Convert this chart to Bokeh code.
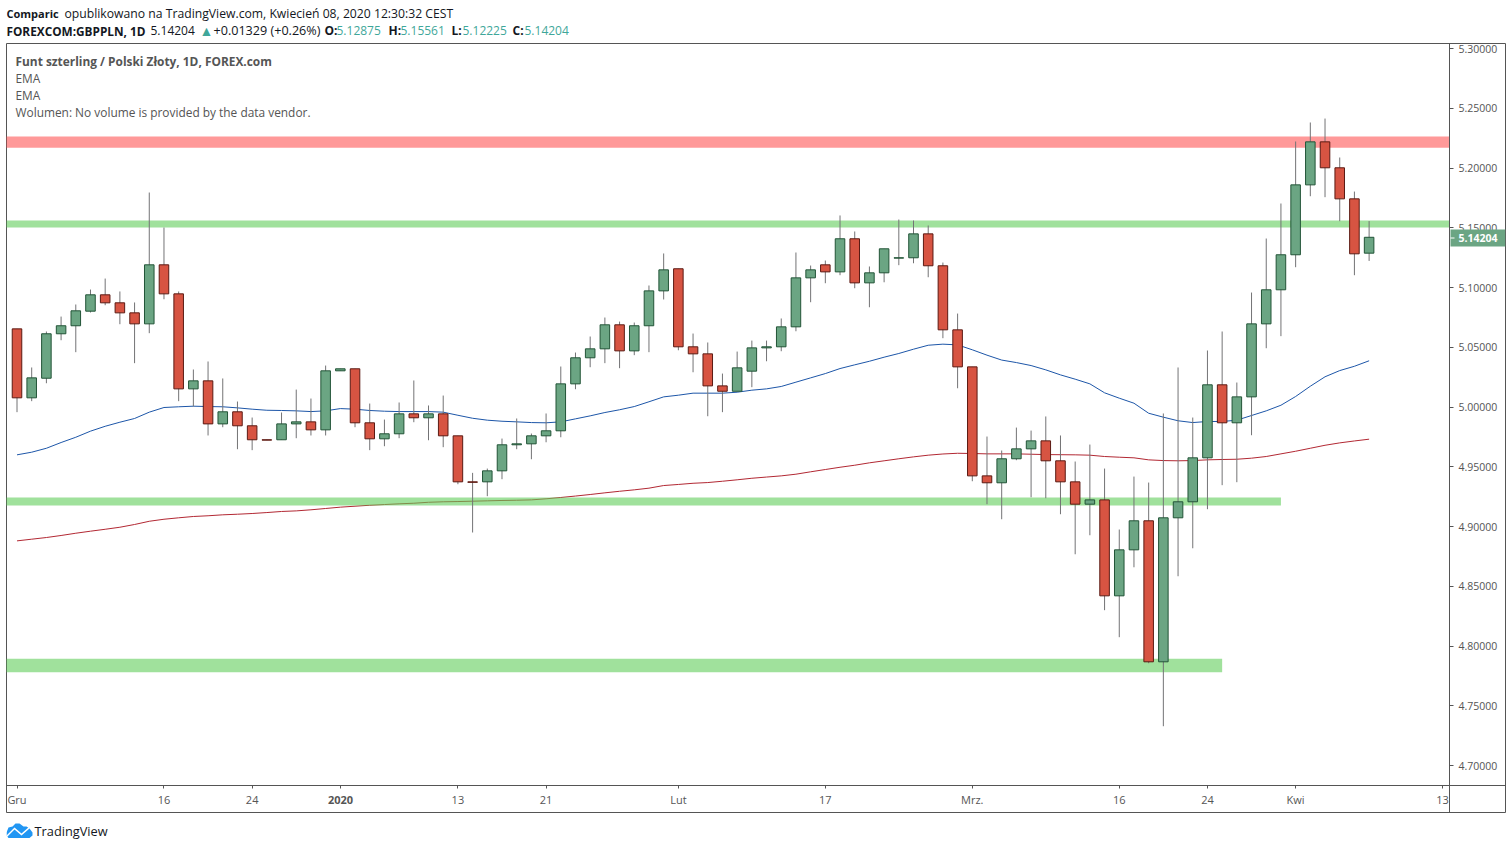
from bokeh.plotting import figure
from bokeh.layouts import column
from bokeh.models import (Range1d, FixedTicker, PrintfTickFormatter, Label, LinearAxis,
                          BoxAnnotation, PolyAnnotation, ColumnDataSource)
from bokeh.embed import file_html
from bokeh.resources import INLINE

opens = [5.0654,5.0077,5.0241,5.0613,5.0680,5.0802,5.0939,5.0872,5.0788,5.0696,5.1190,5.0947,5.0152,5.0219,4.9859,4.9960,4.9843,4.9726,4.9726,4.9859,4.9876,4.9809,5.0303,5.0320,
4.9868,4.9734,4.9776,4.9943,4.9910,4.9943,4.9759,4.9374,4.9374,4.9466,4.9684,4.9692,4.9759,4.9801,5.0194,5.0412,5.0487,5.0688,5.0470,5.0680,5.0972,5.1157,5.0504,5.0445,5.0177,5.0132,5.0300,5.0495,5.0504,5.0671,5.1081,5.1190,5.1131,5.1408,5.1039,5.1123,5.1246,5.1249,5.1449,5.1182,5.0646,5.0336,4.9424,4.9366,4.9567,4.9650,4.9717,4.9550,4.9374,4.9187,4.9223,4.8420,4.8805,4.9048,4.7868,4.9073,4.9207,4.9575,5.0186,4.9868,5.0085,5.0696,5.0981,5.1274,5.1859,5.2219,5.2002,5.1742,5.12875]
closes = [5.0077,5.0244,5.0613,5.0680,5.0805,5.0939,5.0872,5.0788,5.0696,5.1190,5.0947,5.0152,5.0219,4.9859,4.9960,4.9843,4.9726,4.9723,4.9859,4.9876,4.9809,5.0303,5.0320,4.9868,
4.9734,4.9776,4.9943,4.9910,4.9943,4.9759,4.9374,4.9370,4.9466,4.9684,4.9692,4.9759,4.9801,5.0194,5.0412,5.0487,5.0688,5.0470,5.0680,5.0972,5.1148,5.0504,5.0445,5.0177,5.0132,5.0328,5.0495,5.0504,5.0671,5.1081,5.1148,5.1131,5.1408,5.1039,5.1123,5.1324,5.1249,5.1449,5.1182,5.0646,5.0336,4.9424,4.9366,4.9567,4.9650,4.9717,4.9550,4.9374,4.9187,4.9223,4.8420,4.8805,4.9048,4.7868,4.9073,4.9207,4.9575,5.0186,4.9868,5.0085,5.0696,5.0981,5.1274,5.1859,5.2219,5.2002,5.1742,5.1282,5.14204]
highs = [5.0654,5.0331,5.0632,5.0757,5.0858,5.0983,5.1075,5.0967,5.0875,5.1795,5.1502,5.0967,5.0314,5.0381,5.0239,5.0046,4.9912,4.9726,4.9954,5.0146,5.0071,5.0347,5.0320,5.0320,
5.0029,4.9895,5.0038,5.0222,5.0013,5.0096,4.9759,4.9449,4.9485,4.9736,4.9904,4.9778,4.9946,5.0339,5.0456,5.0590,5.0749,5.0715,5.0707,5.1017,5.1285,5.1157,5.0615,5.0540,5.0280,5.0464,5.0556,5.0556,5.0741,5.1293,5.1184,5.1226,5.1603,5.1469,5.1176,5.1324,5.1569,5.1561,5.1519,5.1209,5.0782,5.0336,4.9753,4.9636,4.9828,4.9803,4.9921,4.9762,4.9544,4.9686,4.9485,4.8975,4.9418,4.9368,4.9946,5.0331,4.9912,5.0473,5.0632,5.0205,5.0958,5.1410,5.1703,5.2222,5.2381,5.2414,5.2088,5.1803,5.15561]
lows = [4.9957,5.0049,5.0199,5.0559,5.0459,5.0791,5.0852,5.0693,5.0367,5.0618,5.0902,5.0049,5.0004,4.9762,4.9831,4.9647,4.9639,4.9723,4.9726,4.9739,4.9762,4.9762,5.0303,4.9831,
4.9639,4.9672,4.9739,4.9873,4.9722,4.9664,4.9354,4.8950,4.9254,4.9396,4.9647,4.9563,4.9705,4.9747,5.0149,5.0333,5.0367,5.0325,5.0434,5.0459,5.0900,5.0475,5.0291,4.9923,4.9957,5.0132,5.0166,5.0383,5.0467,5.0634,5.0877,5.1036,5.1103,5.0994,5.0835,5.1044,5.1187,5.1203,5.1086,5.0576,5.0157,4.9379,4.9187,4.9061,4.9555,4.9245,4.9237,4.9103,4.8768,4.8927,4.8300,4.8074,4.8659,4.7856,4.7329,4.8584,4.8818,4.9145,4.9346,4.9371,4.9764,5.0492,5.0593,5.1170,5.1764,5.1756,5.1555,5.1103,5.12225]
ema_blue = [4.9600,4.9622,4.9655,4.9703,4.9747,4.9798,4.9839,4.9873,4.9904,4.9957,4.9996,5.0002,5.0007,5.0004,5.0002,4.9993,4.9982,4.9973,4.9971,4.9968,4.9962,4.9968,4.9987,4.9982,
4.9971,4.9965,4.9962,4.9962,4.9962,4.9957,4.9931,4.9906,4.9890,4.9881,4.9876,4.9870,4.9868,4.9876,4.9901,4.9926,4.9954,4.9977,5.0004,5.0044,5.0085,5.0099,5.0116,5.0116,5.0116,5.0124,5.0141,5.0152,5.0172,5.0208,5.0244,5.0280,5.0322,5.0353,5.0383,5.0417,5.0448,5.0484,5.0517,5.0526,5.0520,5.0479,5.0434,5.0393,5.0372,5.0347,5.0311,5.0269,5.0233,5.0194,5.0119,5.0074,5.0032,4.9948,4.9915,4.9885,4.9870,4.9879,4.9879,4.9890,4.9929,4.9968,5.0015,5.0088,5.0174,5.0253,5.0305,5.0341,5.0387]
ema_red = [4.8880,4.8894,4.8908,4.8925,4.8944,4.8961,4.8977,4.8994,4.9017,4.9044,4.9061,4.9073,4.9084,4.9090,4.9098,4.9103,4.9109,4.9117,4.9126,4.9131,4.9140,4.9151,4.9162,4.9170,
4.9178,4.9184,4.9190,4.9195,4.9203,4.9207,4.9209,4.9212,4.9215,4.9218,4.9220,4.9223,4.9232,4.9243,4.9255,4.9268,4.9282,4.9295,4.9307,4.9321,4.9343,4.9352,4.9362,4.9368,4.9379,4.9391,4.9404,4.9414,4.9424,4.9438,4.9458,4.9477,4.9496,4.9513,4.9533,4.9550,4.9567,4.9583,4.9597,4.9607,4.9613,4.9611,4.9608,4.9608,4.9608,4.9605,4.9602,4.9601,4.9600,4.9597,4.9586,4.9580,4.9575,4.9558,4.9552,4.9550,4.9552,4.9558,4.9561,4.9563,4.9572,4.9586,4.9608,4.9630,4.9655,4.9680,4.9700,4.9716,4.9731]

band_tops = [5.2264, 5.1561, 4.9243, 4.7893]
band_bottoms = [5.2169, 5.1502, 4.9176, 4.7781]
band_ends = [97.475, 97.475, 86, 82]
band_colors = ["#ff5555", "#61cd5a", "#61cd5a", "#61cd5a"]

x_tick_positions = [0, 10, 16, 22, 30, 36, 45, 55, 65, 75, 81, 87, 97]
x_tick_labels = ["Gru", "16", "24", "2020", "13", "21", "Lut", "17", "Mrz.", "16", "24", "Kwi", "13"]
y_ticks = [4.70, 4.75, 4.80, 4.85, 4.90, 4.95, 5.00, 5.05, 5.10, 5.15, 5.20, 5.25, 5.30]

PRICE_AXIS_AT = 97.475   # index at which the price scale sits
TIME_AXIS_AT = 4.6833    # price at which the time scale sits

UP, UP_LINE = "#6ba583", "#225437"
DOWN, DOWN_LINE = "#d75442", "#5b1a13"
WICK = "#737375"
FRAME = "#555555"
TEAL = "#3fa79a"
FONT = "Open Sans"

idx = list(range(len(opens)))
is_up = [c >= o for o, c in zip(opens, closes)]

header = figure(width=1506, height=42, x_range=Range1d(0, 1), y_range=Range1d(0, 1),
                x_axis_location=None, y_axis_location=None, toolbar_location=None,
                output_backend="svg", min_border=0, outline_line_color=None)
footer = figure(width=1506, height=28, x_range=Range1d(0, 1), y_range=Range1d(0, 1),
                x_axis_location=None, y_axis_location=None, toolbar_location=None,
                output_backend="svg", min_border=0, outline_line_color=None)
header.grid.visible = False
footer.grid.visible = False

p = figure(width=1506, height=771, frame_width=1499, frame_height=769,
           x_range=Range1d(-0.7145, 101.28), y_range=Range1d(4.6607, 5.3042),
           x_axis_location=None, y_axis_location=None,
           toolbar_location=None, output_backend="svg",
           min_border_left=6, min_border_right=1, min_border_top=1, min_border_bottom=1)
p.grid.visible = False
p.outline_line_color = FRAME
p.outline_line_width = 1
p.background_fill_color = "white"

overrides = dict(zip(x_tick_positions, x_tick_labels))
overrides[22] = ""      # the year label is drawn bold below
xaxis = LinearAxis(ticker=FixedTicker(ticks=x_tick_positions), major_label_overrides=overrides,
                   fixed_location=TIME_AXIS_AT)
yaxis = LinearAxis(ticker=FixedTicker(ticks=y_ticks),
                   formatter=PrintfTickFormatter(format="%.5f"), fixed_location=PRICE_AXIS_AT)
for ax in (xaxis, yaxis):
    ax.axis_line_color = FRAME
    ax.major_tick_line_color = FRAME
    ax.major_tick_in = 0
    ax.major_tick_out = 3
    ax.minor_tick_line_color = None
    ax.major_label_text_font = FONT
    ax.major_label_text_font_size = "11px"
    ax.major_label_text_color = FRAME
xaxis.major_label_standoff = 4
yaxis.major_label_standoff = 5
yaxis.major_tick_out = 4
yaxis.major_label_text_font_size = "10.5px"
p.add_layout(xaxis, "below")
p.add_layout(yaxis, "right")

# EMA lines sit under the translucent zones
p.line(idx, ema_red, line_color="#b22833", line_width=1)
p.line(idx, ema_blue, line_color="#1d56a8", line_width=1)
p.quad(left=[-1] * 4, right=band_ends, top=band_tops, bottom=band_bottoms,
       fill_color=band_colors, fill_alpha=0.6, line_color=None)

src = ColumnDataSource(dict(
    x=idx, o=opens, c=closes, h=highs, l=lows,
    fill=[UP if u else DOWN for u in is_up],
    edge=[UP_LINE if u else DOWN_LINE for u in is_up]))
p.segment("x", "h", "x", "l", source=src, line_color=WICK, line_width=1)
p.vbar("x", width=0.65, top="o", bottom="c", source=src,
       fill_color="fill", line_color="edge", line_width=1)


def text(fig, x, y, s, size=12, color="#131722", style="normal", align="left"):
    fig.add_layout(Label(x=x, y=y, x_units="canvas", y_units="canvas", text=s,
                         text_font=FONT, text_font_size=f"{size}px", text_color=color,
                         text_font_style=style, text_align=align, text_baseline="middle"))


# header
text(header, 6, 13, "Comparic", size=11, style="bold")
text(header, 64, 13, "opublikowano na TradingView.com, Kwiecień 08, 2020 12:30:32 CEST", size=12.2)
text(header, 6, 30, "FOREXCOM:GBPPLN, 1D", size=11.8, style="bold")
text(header, 150, 30, "5.14204")
text(header, 199, 29.5, "▲", size=14, color=TEAL)
text(header, 213, 30, "+0.01329 (+0.26%)", size=12.6)
for xl, lab, xv, val in [(324, "O:", 336, "5.12875"), (388, "H:", 400, "5.15561"),
                         (451, "L:", 462, "5.12225"), (512, "C:", 524, "5.14204")]:
    text(header, xl, 30, lab, style="bold")
    text(header, xv, 30, val, color=TEAL)

# legend (main canvas starts 42px down the page)
text(p, 15, 60 - 42, "Funt szterling / Polski Złoty, 1D, FOREX.com", size=11.9, color=FRAME, style="bold")
text(p, 15, 77 - 42, "EMA", size=11.9, color=FRAME)
text(p, 15, 94 - 42, "EMA", size=11.9, color=FRAME)
text(p, 15, 111 - 42, "Wolumen: No volume is provided by the data vendor.", size=11.9, color=FRAME)
text(p, 340, 799.5 - 42, "2020", size=11, color=FRAME, style="bold", align="center")

# last price tag
p.add_layout(BoxAnnotation(left=1450, right=1505, top=229 - 42, bottom=246 - 42,
                           left_units="canvas", right_units="canvas",
                           top_units="canvas", bottom_units="canvas",
                           fill_color=UP, fill_alpha=1, line_color=None))
p.add_layout(BoxAnnotation(left=1450, right=1454, top=237 - 42, bottom=238 - 42,
                           left_units="canvas", right_units="canvas",
                           top_units="canvas", bottom_units="canvas",
                           fill_color="white", fill_alpha=1, line_color=None))
text(p, 1458, 237.5 - 42, "5.14204", size=10.5, color="white", style="bold")

# TradingView logo (footer canvas starts 813px down the page)
cloud_x = [6, 8, 12, 15, 19, 23, 26, 29, 32, 32, 29, 8, 6]
cloud_y = [y - 813 for y in [832, 827, 826, 823, 823, 826, 826, 828, 832, 835, 837.5, 837.5, 835]]
footer.add_layout(PolyAnnotation(xs=cloud_x, ys=cloud_y, xs_units="canvas", ys_units="canvas",
                                 fill_color="#2196f3", fill_alpha=1, line_color=None))
zig_x = [6, 14, 21, 29, 29, 21, 14, 6]
zig_y = [y - 813 for y in [835, 827, 833, 826, 828, 835, 829, 837]]
footer.add_layout(PolyAnnotation(xs=zig_x, ys=zig_y, xs_units="canvas", ys_units="canvas",
                                 fill_color="white", fill_alpha=1, line_color=None))
text(footer, 34, 830 - 813, "TradingView", size=12.8, color="#131722")

page = column(header, p, footer, spacing=0)
open("out.html", "w").write(file_html(page, INLINE))
